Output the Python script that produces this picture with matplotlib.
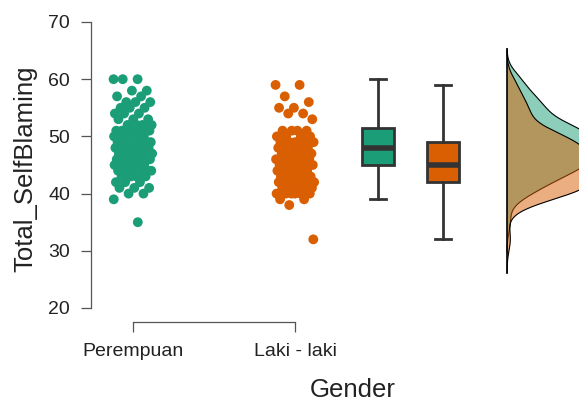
import numpy as np
import matplotlib
matplotlib.use("Agg")
import matplotlib.pyplot as plt

plt.rcParams['font.family'] = ['Liberation Sans', 'DejaVu Sans']

groups = ["Perempuan", "Laki - laki"]
colors = ["#1b9e77", "#d95f02"]

# value -> count
green_vals = [60, 58, 57, 56, 55, 54, 53, 52, 51, 50, 49, 48, 47, 46, 45, 44, 43, 42, 41, 40, 39, 35]
green_cnts = [3, 2, 2, 3, 3, 3, 3, 4, 8, 6, 6, 9, 6, 7, 6, 6, 4, 3, 3, 2, 1, 1]
orange_vals = [59, 57, 56, 55, 54, 53, 51, 50, 49, 48, 47, 46, 45, 44, 43, 42, 41, 40, 39, 38, 32]
orange_cnts = [2, 1, 1, 2, 2, 1, 4, 4, 5, 5, 5, 6, 6, 6, 5, 6, 6, 6, 2, 1, 1]

yticks = [20, 30, 40, 50, 60, 70]

data = [np.repeat(green_vals, green_cnts).astype(float),
        np.repeat(orange_vals, orange_cnts).astype(float)]


def kde(v):
    n = len(v)
    iqr = np.subtract(*np.percentile(v, [75, 25]))
    bw = 0.9 * min(v.std(ddof=1), iqr / 1.34) * n ** -0.2
    grid = np.linspace(v.min() - 3 * bw, v.max() + 3 * bw, 300)
    d = np.exp(-0.5 * ((grid[:, None] - v[None, :]) / bw) ** 2).sum(1)
    d /= n * bw * np.sqrt(2 * np.pi)
    return grid, d


fig = plt.figure(figsize=(5.79, 4.01), dpi=100)
ax = fig.add_axes([91 / 579, 1 - 322 / 401, 488 / 579, 307 / 401])

x0 = 1 - 42 / 162
ax.set_xlim(x0, x0 + 488 / 162)
ax.set_ylim(70 - 300 / 5.72, 70 + 7 / 5.72)

# jittered points
for i, v in enumerate(data):
    k = np.arange(len(v))
    jit = ((k * 0.618034) % 1 - 0.5) * 0.24
    ax.scatter(i + 1 + jit, v, s=50, color=colors[i], edgecolors="none", zorder=3)

# boxplots
box_pos = [2.512, 2.914]
bp = ax.boxplot(data, positions=box_pos, widths=0.2, showfliers=False,
                patch_artist=True, manage_ticks=False,
                boxprops=dict(edgecolor="#333333", linewidth=2),
                whiskerprops=dict(color="#333333", linewidth=2),
                capprops=dict(color="#333333", linewidth=2),
                medianprops=dict(color="#333333", linewidth=4))
for patch, c in zip(bp["boxes"], colors):
    patch.set_facecolor(c)
for cap in bp["caps"]:
    m = cap.get_xdata().mean()
    cap.set_xdata([m - 0.05, m + 0.05])

# densities
base = 3.309
scale = 7.5
lo, hi = 99, 0
for i, v in enumerate(data):
    g, d = kde(v)
    ax.fill_betweenx(g, base, base + scale * d, facecolor=colors[i], alpha=0.5,
                     edgecolor="none", zorder=2)
    ax.plot(base + scale * d, g, color="black", lw=0.8, zorder=2)
    lo, hi = min(lo, g.min()), max(hi, g.max())
ax.plot([base, base], [lo, hi], color="black", lw=1.2, zorder=2)

for s in ["top", "right"]:
    ax.spines[s].set_visible(False)
ax.spines["left"].set_bounds(20, 70)
ax.spines["bottom"].set_bounds(1, 2)
for s in ["left", "bottom"]:
    ax.spines[s].set_color("#555555")
    ax.spines[s].set_linewidth(0.9)

ax.set_yticks(yticks)
ax.set_xticks([1, 2])
ax.set_xticklabels(groups)
ax.tick_params(axis="both", direction="out", length=7, width=0.9, color="#555555",
               labelsize=14, labelcolor="#222222", pad=8)

ax.set_ylabel("Total_SelfBlaming", fontsize=18.5, color="#222222", labelpad=8)
fig.text(353 / 579, 1 - 390 / 401, "Gender", fontsize=18.5, color="#222222",
         ha="center", va="center")

fig.savefig("out.png", dpi=100)
